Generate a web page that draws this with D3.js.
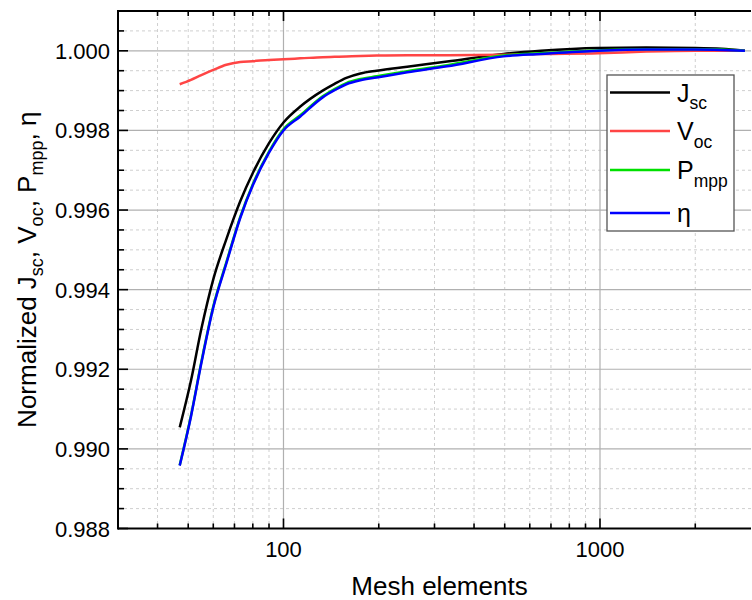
<!DOCTYPE html>
<html>
<head>
<meta charset="utf-8">
<script src="https://cdn.jsdelivr.net/npm/d3@7"></script>
<style>
  html, body { margin: 0; padding: 0; background: #fff; }
  svg { display: block; font-family: "Liberation Sans", Arial, sans-serif; }
</style>
</head>
<body>
<svg id="chart" width="752" height="600"></svg>
<script>
// Mesh refinement study: normalized solar-cell figures of merit vs. number of mesh elements
const meshElements = [47, 51, 55, 60, 66, 73, 80, 90, 100, 113, 133, 145, 158, 175, 197, 246, 329, 496, 650, 985, 1400, 2000, 2420, 2870];

const jsc  = [0.99054, 0.99171, 0.99301, 0.99426, 0.99527, 0.99622, 0.99693, 0.99768, 0.99820, 0.99860, 0.99900, 0.99917, 0.99932, 0.99943, 0.99950, 0.99960, 0.99973, 0.99992, 1.00000, 1.00007, 1.00008, 1.00007, 1.00005, 1.00000];
const voc  = [0.99916, 0.99927, 0.99939, 0.99952, 0.99965, 0.99972, 0.99974, 0.99977, 0.99979, 0.99981, 0.99984, 0.99985, 0.99986, 0.99987, 0.99988, 0.99989, 0.99989, 0.99990, 0.99992, 0.99994, 0.99998, 1.00000, 1.00000, 1.00000];
const pmpp = [0.98959, 0.99083, 0.99218, 0.99358, 0.99469, 0.99583, 0.99665, 0.99747, 0.99803, 0.99838, 0.99886, 0.99904, 0.99919, 0.99929, 0.99936, 0.99949, 0.99964, 0.99988, 0.99994, 1.00001, 1.00004, 1.00004, 1.00003, 1.00000];
const eta  = [0.98958, 0.99081, 0.99215, 0.99355, 0.99466, 0.99580, 0.99662, 0.99744, 0.99800, 0.99835, 0.99883, 0.99901, 0.99916, 0.99926, 0.99933, 0.99946, 0.99961, 0.99986, 0.99992, 1.00000, 1.00003, 1.00003, 1.00002, 1.00000];

const seriesNames = ["J", "V", "P", "η"];
const seriesSubs  = ["sc", "oc", "mpp", ""];
const seriesColors = ["#000000", "#ff4545", "#00e000", "#0000ff"];

const xMajorTicks = [100, 1000];
const xMinorTicks = [40, 50, 60, 70, 80, 90, 200, 300, 400, 500, 600, 700, 800, 900, 2000];
const yMajorTicks = [0.988, 0.990, 0.992, 0.994, 0.996, 0.998, 1.000];
const yMinorTicks = [0.9885, 0.9895, 0.9905, 0.9915, 0.9925, 0.9935, 0.9945, 0.9955, 0.9965, 0.9975, 0.9985, 0.9995, 1.0005,
                     0.989, 0.991, 0.993, 0.995, 0.997, 0.999];

const svg = d3.select("#chart");
const plotLeft = 118, plotRight = 751, plotTop = 11, plotBottom = 528.5;

const x = d3.scaleLog().domain([30, 3000]).range([plotLeft, plotRight]);
const y = d3.scaleLinear().domain([0.988, 1.001]).range([plotBottom, plotTop]);

// grid
const grid = svg.append("g");
grid.selectAll(".vminor").data(xMinorTicks).join("line")
  .attr("x1", d => x(d)).attr("x2", d => x(d)).attr("y1", plotTop).attr("y2", plotBottom)
  .attr("stroke", "#cfcfcf").attr("stroke-width", 1).attr("stroke-dasharray", "3,3");
grid.selectAll(".hminor").data(yMinorTicks).join("line")
  .attr("x1", plotLeft).attr("x2", plotRight).attr("y1", d => y(d)).attr("y2", d => y(d))
  .attr("stroke", "#cfcfcf").attr("stroke-width", 1).attr("stroke-dasharray", "3,3");
grid.selectAll(".vmajor").data(xMajorTicks).join("line")
  .attr("x1", d => x(d)).attr("x2", d => x(d)).attr("y1", plotTop).attr("y2", plotBottom)
  .attr("stroke", "#b0b0b0").attr("stroke-width", 1.2);
grid.selectAll(".hmajor").data(yMajorTicks.slice(1)).join("line")
  .attr("x1", plotLeft).attr("x2", plotRight).attr("y1", d => y(d)).attr("y2", d => y(d))
  .attr("stroke", "#b0b0b0").attr("stroke-width", 1.2);

// curves
svg.append("clipPath").attr("id", "plotClip").append("rect")
  .attr("x", plotLeft).attr("y", plotTop).attr("width", plotRight - plotLeft).attr("height", plotBottom - plotTop);

const allSeries = [jsc, voc, pmpp, eta];
const line = d3.line()
  .x((d, i) => x(meshElements[i]))
  .y(d => y(d))
  .curve(d3.curveMonotoneX);

svg.append("g").attr("clip-path", "url(#plotClip)")
  .selectAll("path").data(allSeries).join("path")
  .attr("d", d => line(d))
  .attr("fill", "none")
  .attr("stroke", (d, i) => seriesColors[i])
  .attr("stroke-width", 2.5)
  .attr("stroke-linejoin", "round");

// axes with inward ticks
const axisG = svg.append("g");
function tickLines(values, pos, len, horizontalAxis) {
  axisG.append("g").selectAll("line").data(values).join("line")
    .attr("x1", d => horizontalAxis ? x(d) : pos)
    .attr("x2", d => horizontalAxis ? x(d) : pos + len)
    .attr("y1", d => horizontalAxis ? pos : y(d))
    .attr("y2", d => horizontalAxis ? pos + len : y(d))
    .attr("stroke", "#000").attr("stroke-width", 1.6);
}
tickLines(xMajorTicks, plotBottom, -10, true);
tickLines(xMinorTicks, plotBottom, -5, true);
tickLines(xMajorTicks, plotTop, 10, true);
tickLines(xMinorTicks, plotTop, 5, true);
tickLines(yMajorTicks, plotLeft, 10, false);
tickLines(yMinorTicks, plotLeft, 6, false);

axisG.append("line").attr("x1", plotLeft).attr("x2", plotRight).attr("y1", plotBottom).attr("y2", plotBottom)
  .attr("stroke", "#000").attr("stroke-width", 2);
axisG.append("line").attr("x1", plotLeft).attr("x2", plotRight).attr("y1", plotTop).attr("y2", plotTop)
  .attr("stroke", "#000").attr("stroke-width", 2);
axisG.append("line").attr("x1", plotLeft).attr("x2", plotLeft).attr("y1", plotTop - 1).attr("y2", plotBottom + 1)
  .attr("stroke", "#000").attr("stroke-width", 2);

// tick labels
svg.append("g").selectAll("text").data(xMajorTicks).join("text")
  .attr("x", d => x(d)).attr("y", 557)
  .attr("text-anchor", "middle").attr("font-size", 22).attr("fill", "#000")
  .text(d => d3.format("d")(d));
svg.append("g").selectAll("text").data(yMajorTicks).join("text")
  .attr("x", 110).attr("y", d => y(d) + 8)
  .attr("text-anchor", "end").attr("font-size", 22).attr("fill", "#000")
  .text(d => d3.format(".3f")(d));

// axis titles
svg.append("text").attr("x", 439.5).attr("y", 595)
  .attr("text-anchor", "middle").attr("font-size", 26).attr("fill", "#000")
  .text("Mesh elements");

const yTitle = svg.append("text")
  .attr("transform", `translate(36, ${(plotTop + plotBottom) / 2}) rotate(-90)`)
  .attr("text-anchor", "middle").attr("font-size", 26).attr("fill", "#000");
yTitle.append("tspan").text("Normalized J");
yTitle.append("tspan").attr("font-size", 18).attr("dy", 7).text("sc");
yTitle.append("tspan").attr("dy", -7).text(", V");
yTitle.append("tspan").attr("font-size", 18).attr("dy", 7).text("oc");
yTitle.append("tspan").attr("dy", -7).text(", P");
yTitle.append("tspan").attr("font-size", 18).attr("dy", 7).text("mpp");
yTitle.append("tspan").attr("dy", -7).text(", η");

// legend
const legend = svg.append("g");
legend.append("rect").attr("x", 607).attr("y", 75).attr("width", 127).attr("height", 156)
  .attr("fill", "#fff").attr("stroke", "#555").attr("stroke-width", 1.3);
const legendY = [92.5, 131, 170, 213];
seriesNames.forEach((name, i) => {
  legend.append("line").attr("x1", 610).attr("x2", 670)
    .attr("y1", legendY[i]).attr("y2", legendY[i])
    .attr("stroke", seriesColors[i]).attr("stroke-width", 2.6);
  const t = legend.append("text").attr("x", 677).attr("y", legendY[i] + 9)
    .attr("font-size", 25).attr("fill", "#000");
  t.append("tspan").text(name);
  if (seriesSubs[i]) t.append("tspan").attr("font-size", 17.5).attr("dy", 7.5).text(seriesSubs[i]);
});
</script>
</body>
</html>
